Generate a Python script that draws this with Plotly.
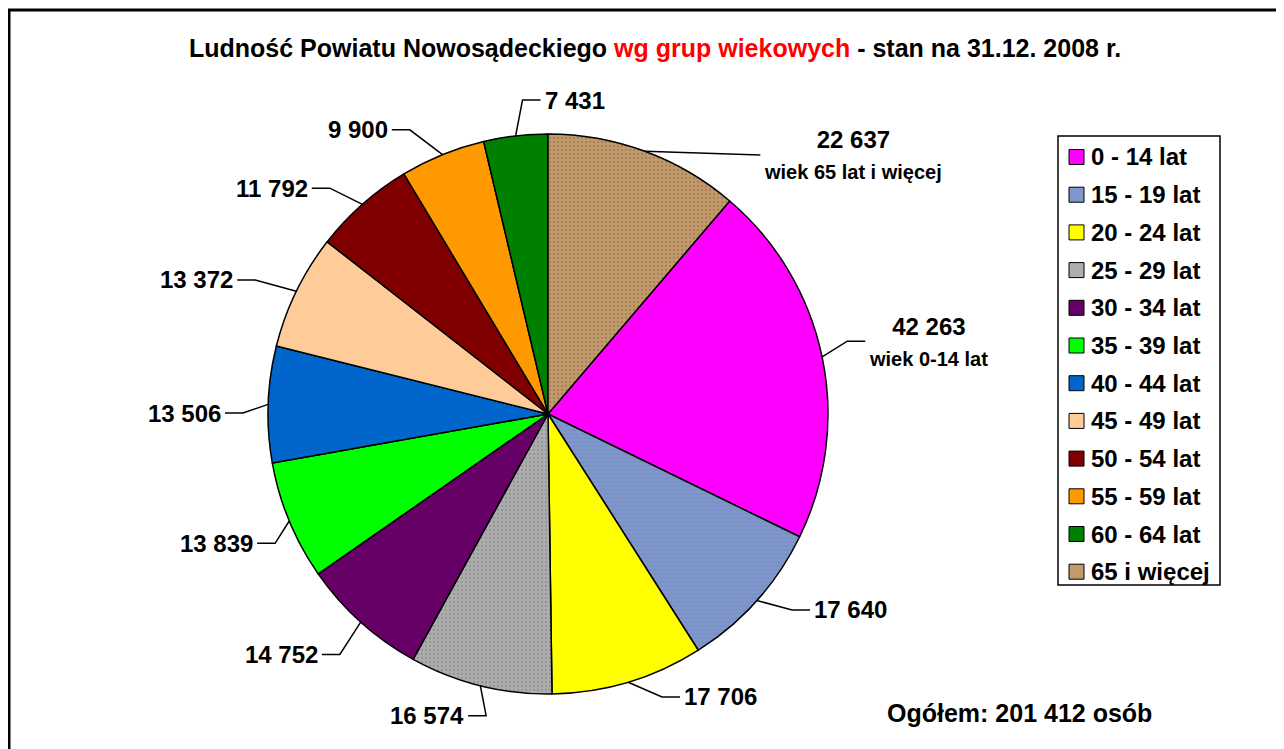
import math
import plotly.graph_objects as go

# ---------------- data ----------------
categories = ["0 - 14 lat", "15 - 19 lat", "20 - 24 lat", "25 - 29 lat", "30 - 34 lat",
              "35 - 39 lat", "40 - 44 lat", "45 - 49 lat", "50 - 54 lat", "55 - 59 lat",
              "60 - 64 lat", "65 i więcej"]
values = [42263, 17640, 17706, 16574, 14752, 13839, 13506, 13372, 11792, 9900, 7431, 22637]
subtitles = {0: "wiek 0-14 lat", 11: "wiek 65 lat i więcej"}
title_black_1 = "Ludność Powiatu Nowosądeckiego "
title_red = "wg grup wiekowych"
title_black_2 = " - stan na 31.12. 2008 r."
total_label = "Ogółem: 201 412 osób"

# ---------------- styles ----------------
colors = ["#FF00FF", "#7F97CB", "#FFFF00", "#ADADAD", "#660066", "#00FF00",
          "#0066CC", "#FFCC99", "#800000", "#FF9900", "#008000", "#C29A6B"]
pattern_shapes = ["", "-", "", ".", "", "", "", "", "", "", "", "."]
pattern_fg = ["#000", "#6A82B8", "#000", "#7A7A7A", "#000", "#000",
              "#000", "#000", "#000", "#000", "#000", "#8A6642"]

W, H = 1284, 749
OFF = 8                              # page body margin
FONT = "Liberation Sans, Arial, sans-serif"
CX, CY, R = 548, 414, 280          # pie centre / radius in px (screen)
ELBOW_LEN = 18
# label leader placement: (angle offset from slice middle in deg, elbow radius px)
label_offsets = [(-1.9, 308), (-3.0, 313), (-5.3, 305), (-2.4, 308), (-1.1, 318),
                 (-2.9, 302), (-1.8, 305), (-1.4, 322), (-2.5, 314), (-3.8, 316),
                 (2.0, 315), (19.1, 335)]
side_override = {10: 1}             # label on right side
elbow_override = {11: 0}


def fx(x):
    return (x - OFF) / W


def fy(y):
    return 1 - (y - OFF) / H


total = sum(values)
rotation = values[-1] / total * 360

fig = go.Figure(go.Pie(
    labels=categories, values=values, sort=False, direction="clockwise",
    rotation=rotation, textinfo="none", hoverinfo="label+value", showlegend=False,
    marker=dict(colors=colors, line=dict(color="black", width=1.5),
                pattern=dict(shape=pattern_shapes, fgcolor=pattern_fg, fillmode="overlay",
                             size=4, solidity=0.25)),
    domain=dict(x=[fx(CX - R), fx(CX + R)], y=[fy(CY + R), fy(CY - R)]),
))

shapes = []
annotations = []


def pt(angle_deg, r):
    a = math.radians(angle_deg)
    return CX + r * math.sin(a), CY - r * math.cos(a)


# ---------------- slice labels with leader lines ----------------
start = rotation
for i, v in enumerate(values):
    sweep = v / total * 360
    mid = start + sweep / 2
    start += sweep
    ex, ey = pt(mid, R)
    da, rl = label_offsets[i]
    bx, by = pt(mid + da, rl)
    side = side_override.get(i, 1 if math.sin(math.radians(mid)) > 0 else -1)
    elb = elbow_override.get(i, ELBOW_LEN)
    hx = bx + side * elb
    shapes.append(dict(type="path", xref="paper", yref="paper",
                       path=f"M {fx(ex)},{fy(ey)} L {fx(bx)},{fy(by)} L {fx(hx)},{fy(by)}",
                       line=dict(color="black", width=1.5)))
    txt = f"{v:,}".replace(",", " ")
    if i in subtitles:
        txt = txt + f"<br><span style='font-size:20px'>{subtitles[i]}</span>"
    annotations.append(dict(
        x=fx(hx + side * 2), y=fy(by), xref="paper", yref="paper",
        xanchor="left" if side > 0 else "right", yanchor="middle",
        text=txt, showarrow=False, align="center",
        font=dict(family=FONT, size=24, color="black", weight="bold")))

# ---------------- title & total ----------------
annotations.append(dict(
    x=fx(655), y=fy(48), xref="paper", yref="paper", xanchor="center", yanchor="middle",
    text=f"{title_black_1}<span style='color:#FF0000'>{title_red}</span>{title_black_2}",
    showarrow=False, font=dict(family=FONT, size=25, color="black", weight="bold")))
annotations.append(dict(
    x=fx(885), y=fy(713), xref="paper", yref="paper", xanchor="left", yanchor="middle",
    text=total_label, showarrow=False,
    font=dict(family=FONT, size=25, color="black", weight="bold")))

# ---------------- legend (manual) ----------------
LX0, LY0, LX1, LY1 = 1058, 136, 1220, 585
ROW0, ROWH = 157, 37.7
shapes.append(dict(type="rect", xref="paper", yref="paper",
                   x0=fx(LX0), x1=fx(LX1), y0=fy(LY1), y1=fy(LY0),
                   line=dict(color="black", width=1.5), fillcolor="white", layer="below"))
for i, cat in enumerate(categories):
    yc = ROW0 + i * ROWH
    shapes.append(dict(type="rect", xref="paper", yref="paper",
                       x0=fx(1069), x1=fx(1084), y0=fy(yc + 7.5), y1=fy(yc - 7.5),
                       line=dict(color="black", width=1), fillcolor=colors[i]))
    annotations.append(dict(
        x=fx(1089), y=fy(yc), xref="paper", yref="paper", xanchor="left", yanchor="middle",
        text=cat, showarrow=False,
        font=dict(family=FONT, size=24, color="black", weight="bold")))

# ---------------- outer frame ----------------
shapes.append(dict(type="rect", xref="paper", yref="paper",
                   x0=fx(9), x1=fx(1300), y0=fy(780), y1=fy(10),
                   line=dict(color="black", width=3)))

fig.update_layout(
    width=W, height=H, margin=dict(l=0, r=0, t=0, b=0),
    paper_bgcolor="white", plot_bgcolor="white",
    shapes=shapes, annotations=annotations, showlegend=False,
    font=dict(family=FONT),
)

fig.write_html("out.html")
